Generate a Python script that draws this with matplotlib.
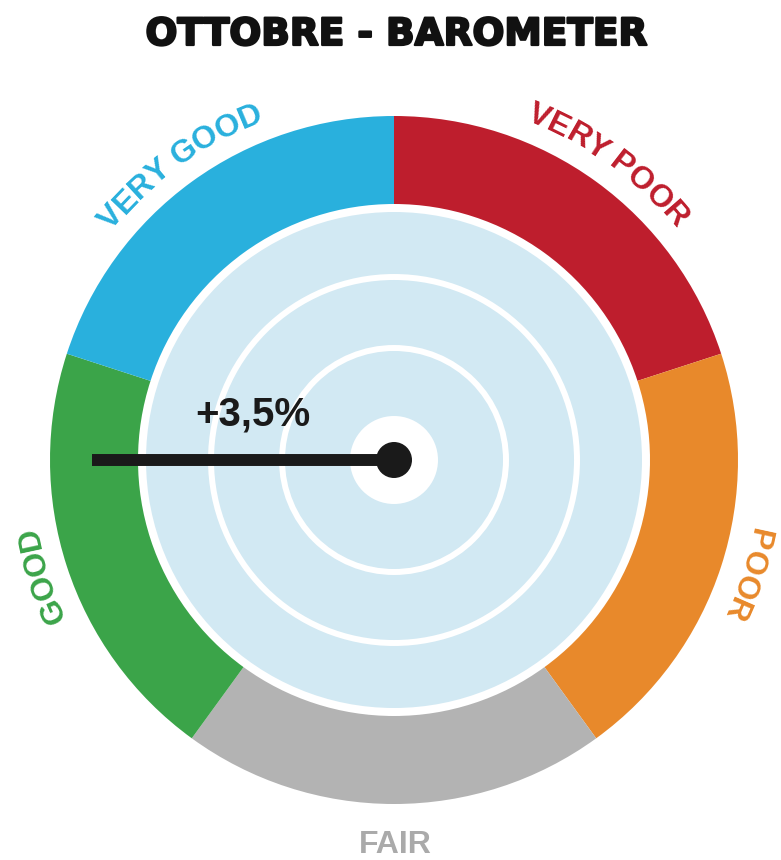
import numpy as np
import matplotlib.pyplot as plt
import matplotlib.patheffects as pe
from matplotlib.patches import Wedge, Circle
from matplotlib.font_manager import FontProperties
from matplotlib.textpath import TextToPath

# categorie del barometro (in senso orario dall'alto)
categorie = ["VERY POOR", "POOR", "FAIR", "GOOD", "VERY GOOD"]
colori = ["#BE1E2D", "#E8892B", "#B3B3B3", "#3BA449", "#29B0DD"]
colori_testo = ["#BE1E2D", "#E8892B", "#AAAAAA", "#3BA449", "#29B0DD"]
angolo_inizio = [90, 18, -54, -126, -198]   # gradi
angolo_fine = [18, -54, -126, -198, -270]

valore = "+3,5%"
angolo_lancetta = 180   # gradi
titolo = "OTTOBRE - BAROMETER"

# geometria in pixel
W, H = 781, 860
cx, cy = 394, 400
R_est = 344
R_int = 256
R_disco = 248
R_cerchi = [183, 112]
R_centro = 44
R_testo = 364

fig = plt.figure(figsize=(W / 100, H / 100), dpi=100)
ax = fig.add_axes([0, 0, 1, 1])
ax.set_xlim(0, W)
ax.set_ylim(0, H)
ax.set_aspect("equal")
ax.axis("off")

# anello colorato
for a1, a2, c in zip(angolo_inizio, angolo_fine, colori):
    ax.add_patch(Wedge((cx, cy), R_est, a2, a1, width=R_est - R_int,
                       facecolor=c, edgecolor="none"))

# disco interno azzurro
ax.add_patch(Circle((cx, cy), R_disco, facecolor="#D2E9F3", edgecolor="none"))
for r in R_cerchi:
    ax.add_patch(Circle((cx, cy), r, facecolor="none", edgecolor="white", lw=4.3))
ax.add_patch(Circle((cx, cy), R_centro, facecolor="white", edgecolor="none"))

# lancetta
L = 302
t = np.radians(angolo_lancetta)
ax.plot([cx, cx + L * np.cos(t)], [cy, cy + L * np.sin(t)], color="#1a1a1a",
        lw=8.6, solid_capstyle="butt", zorder=5)
ax.add_patch(Circle((cx, cy), 18, facecolor="#1a1a1a", edgecolor="none", zorder=6))

ax.text(253, 445, valore, ha="center", va="center", fontsize=29,
        fontweight="bold", family="Liberation Sans", color="#1a1a1a")

ax.text(W / 2 + 6, 825, titolo, ha="center", va="center", fontsize=27,
        fontweight="bold", family="DejaVu Sans", color="#111111",
        path_effects=[pe.withStroke(linewidth=1.6, foreground="#111111")])

# etichette curve
fp = FontProperties(family="Liberation Sans", weight="bold", size=23)
t2p = TextToPath()


def larg(s):
    if s == "":
        return 0.0
    w, h, d = t2p.get_text_width_height_descent(s, fp, ismath=False)
    return w * 100 / 72


for nome, a1, a2, c in zip(categorie, angolo_inizio, angolo_fine, colori_testo):
    mid = (a1 + a2) / 2
    if nome == "FAIR":
        ax.text(cx + 1, 7, nome, ha="center", va="baseline", fontproperties=fp, color=c)
        continue
    tot = larg(nome)
    for i, ch in enumerate(nome):
        pos = (larg(nome[:i]) + larg(nome[:i + 1])) / 2 - tot / 2
        th = mid - np.degrees(pos / R_testo)
        x = cx + R_testo * np.cos(np.radians(th))
        y = cy + R_testo * np.sin(np.radians(th))
        ax.text(x, y, ch, ha="center", va="baseline", rotation=th - 90,
                rotation_mode="anchor", fontproperties=fp, color=c)

fig.savefig("out.png", dpi=100)
